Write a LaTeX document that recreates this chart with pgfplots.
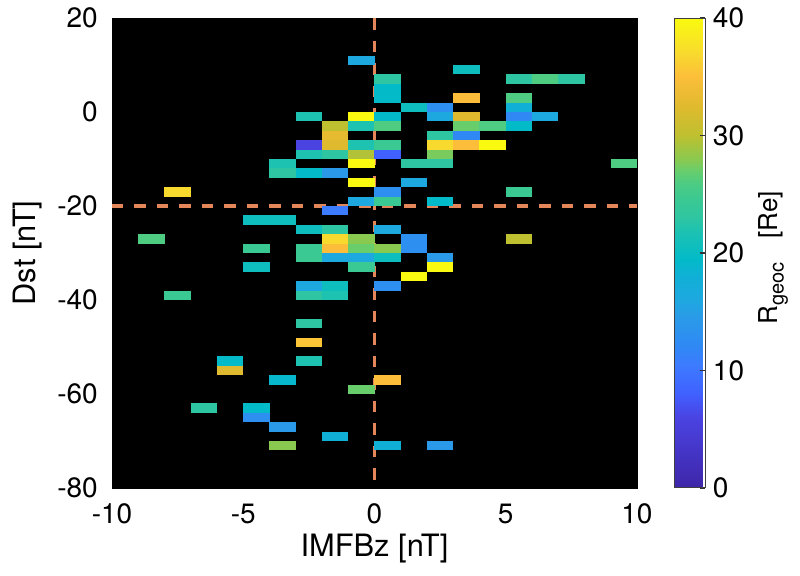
\documentclass[border=0pt]{standalone}
\usepackage{fontspec}
\setmainfont{TeX Gyre Heros}
\usepackage{pgfplots}
\pgfplotsset{compat=1.18}

\definecolor{dashcol}{RGB}{227,134,90}

% one histogram cell: 1 nT wide, 2 nT tall (axis is 262.5pt x 235pt)
\pgfdeclareplotmark{cell}{%
  \pgfpathrectangle{\pgfqpoint{-6.6pt}{-2.39pt}}{\pgfqpoint{13.2pt}{4.78pt}}%
  \pgfusepathqfill}

\pgfplotsset{
  colormap={parulaish}{
    rgb255(0pt)=(62,38,168)
    rgb255(12pt)=(74,67,226)
    rgb255(16pt)=(64,96,255)
    rgb255(21pt)=(61,123,255)
    rgb255(24pt)=(48,136,245)
    rgb255(26pt)=(45,144,240)
    rgb255(29pt)=(42,154,232)
    rgb255(32pt)=(30,168,224)
    rgb255(36pt)=(16,176,214)
    rgb255(39pt)=(2,186,200)
    rgb255(41pt)=(14,190,190)
    rgb255(44pt)=(30,194,176)
    rgb255(46pt)=(46,198,162)
    rgb255(49pt)=(58,200,147)
    rgb255(52pt)=(78,204,130)
    rgb255(54pt)=(104,206,108)
    rgb255(56pt)=(138,201,80)
    rgb255(60pt)=(190,192,48)
    rgb255(65pt)=(224,186,46)
    rgb255(70pt)=(252,190,58)
    rgb255(74pt)=(248,218,46)
    rgb255(80pt)=(249,250,15)
  }
}

\pgfplotstableread{
x y v
-0.5 11 16
-2.5 -1 22
-0.5 -1 40
-1.5 -3 30
-0.5 -3 22
-1.5 -5 33
-2.5 -7 6
-1.5 -7 32.5
-0.5 -7 22
-2.5 -9 22
-1.5 -9 23
-0.5 -9 29.5
-3.5 -11 22
-0.5 -11 40
-3.5 -13 23
-2.5 -13 19.5
-1.5 -13 14.5
-0.5 -15 40
-7.5 -17 37
-0.5 -19 16
-1.5 -21 10.5
-4.5 -23 20.5
-3.5 -23 20.5
-2.5 -25 20.5
-1.5 -25 23
-8.5 -27 26
-1.5 -27 37
-0.5 -27 28
-4.5 -29 24.5
-2.5 -29 24.5
-1.5 -29 35
-0.5 -29 27
-2.5 -31 24.5
-1.5 -31 16
-0.5 -31 16
-0.5 -33 24.5
-4.5 -33 20.5
-2.5 -37 16
-1.5 -37 20.5
-2.5 -39 23
-1.5 -39 22
-7.5 -39 24.5
-2.5 -45 23
1.5 -15 16
0.5 -17 13
5.5 -17 24.5
0.5 -19 24.5
2.5 -19 19.5
0.5 -25 16
1.5 -27 13
1.5 -29 13
5.5 -27 30
0.5 -29 28
0.5 -31 20.5
2.5 -31 14.5
2.5 -33 40
1.5 -35 40
0.5 -37 13
3.5 9 20.5
0.5 7 23
5.5 7 23
6.5 7 26
7.5 7 23
0.5 5 19.5
0.5 3 19.5
3.5 3 35
5.5 3 26
1.5 1 20.5
2.5 1 13
5.5 1 18
0.5 -1 19.5
2.5 -1 16
3.5 -1 32.5
5.5 -1 12
6.5 -1 16
0.5 -3 26
3.5 -3 27
4.5 -3 26
5.5 -3 19.5
2.5 -5 23
3.5 -5 12
0.5 -7 24.5
2.5 -7 37
3.5 -7 35
4.5 -7 40
0.5 -9 8
2.5 -9 27.5
1.5 -11 23
2.5 -11 23
9.5 -11 26
-2.5 -49 35.5
-2.5 -53 22
-5.5 -53 19.5
-5.5 -55 32.5
-3.5 -57 19
-0.5 -59 27
-6.5 -63 23
-4.5 -63 19.5
-4.5 -65 13
-3.5 -67 14.5
-1.5 -69 18
-3.5 -71 28
0.5 -57 35
0.5 -71 18
2.5 -71 14.5
}\cells

\begin{document}
\begin{tikzpicture}
\begin{axis}[
    scale only axis,
    width=262.5pt, height=235pt,
    xmin=-10, xmax=10, ymin=-80, ymax=20,
    xtick={-10,-5,0,5,10}, xticklabels={-10,-5,0,5,10},
    ytick={-80,-60,-40,-20,0,20}, yticklabels={-80,-60,-40,-20,0,20},
    axis background/.style={fill=black},
    axis line style={black},
    tick style={black},
    tick align=inside,
    ticklabel style={font=\fontsize{14}{14}\selectfont},
    xticklabel style={yshift=-4.4pt},
    yticklabel style={xshift=-3.6pt},
    xlabel={IMFBz [nT]},
    ylabel={Dst [nT]},
    label style={font=\fontsize{15.4}{16}\selectfont},
    xlabel style={at={(axis description cs:0.5,-0.128)}, anchor=center},
    ylabel style={at={(axis description cs:-0.16,0.5)}, anchor=center, rotate=0},
    colormap name=parulaish,
    point meta min=0, point meta max=40,
    colorbar,
    colorbar style={
        at={(parent axis.north east)}, anchor=north west, xshift=10pt,
        width=15.5pt,
        ytick={0,10,20,30,40}, yticklabels={0,10,20,30,40},
        ytick pos=right, yticklabel pos=right,
        tick align=inside, major tick length=2.5pt,
        tick style={black!80, line width=0.6pt},
        axis line style={draw=black!75, line width=0.5pt},
        yticklabel style={font=\fontsize{14}{14}\selectfont, xshift=0.4pt},
        ylabel={R\raisebox{-0.45ex}{\fontsize{10}{10}\selectfont geoc}\hspace{0.9em}[Re]},
        ylabel style={at={(axis description cs:3.2,0.49)}, anchor=center, rotate=0,
                      font=\fontsize{13}{13}\selectfont},
    },
]
\addplot[scatter, only marks, mark=cell, point meta=explicit]
    table[x=x, y=y, meta=v] {\cells};
\addplot[draw=dashcol, line width=1.75pt, dash pattern=on 5.75pt off 5.5pt]
    coordinates {(0,20) (0,-80)};
\addplot[draw=dashcol, line width=1.75pt, dash pattern=on 5.75pt off 5.5pt]
    coordinates {(-10,-20) (10,-20)};
\end{axis}
\pgfresetboundingbox
\path[use as bounding box] (-56pt,-43.5pt) rectangle (344pt,244pt);
\end{tikzpicture}
\end{document}
